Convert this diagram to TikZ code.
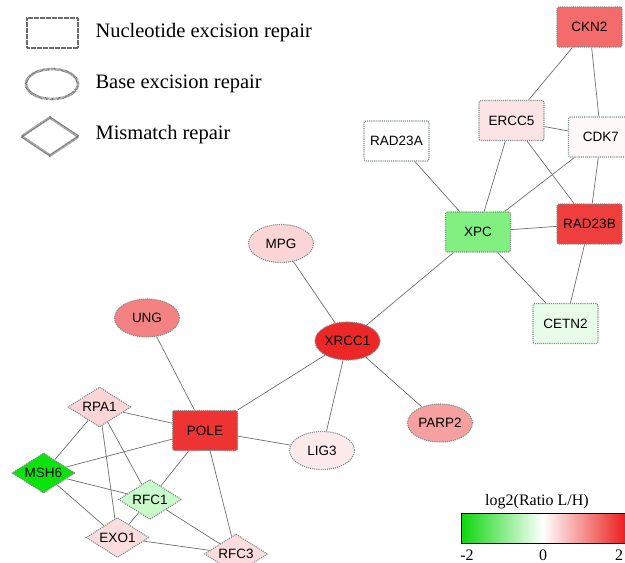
\documentclass[tikz,border=0pt]{standalone}
\usepackage{fontspec}
\setmainfont{Liberation Serif}
\setsansfont{Liberation Sans}
\usepackage{tikz}
\usetikzlibrary{shapes.geometric}
\usepackage{xcolor}
\definecolor{upred}{RGB}{236,28,28}
\definecolor{downgreen}{RGB}{12,226,12}
\definecolor{edgegray}{HTML}{6E6E6E}
\definecolor{rimgray}{HTML}{7F8A8C}
\newcommand{\genefont}{\sffamily\fontsize{13.5}{15}\selectfont}
\newcommand{\keyfont}{\rmfamily\fontsize{20.5}{23}\selectfont}
\newcommand{\barfont}{\rmfamily\fontsize{16}{18}\selectfont}
\tikzset{x=1pt, y=-1pt}
\tikzstyle{gene} = [draw=rimgray, densely dotted, line width=1.1pt, inner sep=0pt, font=\genefont]
\tikzstyle{nerbox} = [gene, rectangle, rounded corners=2pt, minimum width=65pt, minimum height=40pt]
\tikzstyle{berbox} = [gene, ellipse, minimum width=65pt, minimum height=38pt]
\tikzstyle{mmrbox} = [gene, diamond, aspect=1.6, minimum width=63pt, minimum height=40pt]
\tikzstyle{keyshape} = [draw=gray!85!black, line width=2.6pt, dash pattern=on 0.6pt off 0.6pt, inner sep=0pt]
\tikzstyle{ln} = [draw=edgegray, line width=0.7pt]

\begin{document}
\begin{tikzpicture}
  \useasboundingbox (0,0) rectangle (625,563);
  \clip (0,0) rectangle (625,563);
  % legend
  \node[keyshape, rectangle, minimum width=51pt, minimum height=30pt] (keyner) at (52.5,33) {};
  \node[keyshape, ellipse, minimum width=52pt, minimum height=30pt] (keyber) at (52,84) {};
  \node[keyshape, diamond, minimum width=58pt, minimum height=39pt] (keymmr) at (50,136.5) {};
  \node[anchor=west, font=\keyfont] (txtner) at (92,33) {Nucleotide excision repair};
  \node[anchor=west, font=\keyfont] (txtber) at (92,84) {Base excision repair};
  \node[anchor=west, font=\keyfont] (txtmmr) at (92,135) {Mismatch repair};
  % nucleotide excision repair
  \node[nerbox, fill=upred!65] (ckn2) at (589.5,27) {CKN2};
  \node[nerbox, fill=upred!12] (ercc5) at (511.5,120.5) {ERCC5};
  \node[nerbox, fill=upred!3] (cdk7) at (601,137) {CDK7};
  \node[nerbox, fill=white] (rad23a) at (396.5,141) {RAD23A};
  \node[nerbox, fill=downgreen!52] (xpc) at (478,232) {XPC};
  \node[nerbox, fill=upred!85] (rad23b) at (589.5,224) {RAD23B};
  \node[nerbox, fill=downgreen!9] (cetn2) at (565.5,323.5) {CETN2};
  \node[nerbox, fill=upred!90] (pole) at (205,430.5) {POLE};
  % base excision repair
  \node[berbox, fill=upred!95] (xrcc1) at (347.5,341) {XRCC1};
  \node[berbox, fill=upred!18] (mpg) at (281,243.5) {MPG};
  \node[berbox, fill=upred!55] (ung) at (147,318) {UNG};
  \node[berbox, fill=upred!42] (parp2) at (440,423) {PARP2};
  \node[berbox, fill=upred!9] (lig3) at (322,450.5) {LIG3};
  % mismatch repair
  \node[mmrbox, fill=upred!18] (rpa1) at (99.5,407) {RPA1};
  \node[mmrbox, fill=downgreen] (msh6) at (43.5,473) {MSH6};
  \node[mmrbox, fill=downgreen!22] (rfc1) at (150,499.5) {RFC1};
  \node[mmrbox, fill=upred!15] (exo1) at (117.5,537.5) {EXO1};
  \node[mmrbox, fill=upred!15] (rfc3) at (236,554) {RFC3};
  \path[ln]
    (ckn2) edge (ercc5)
    (ckn2) edge (cdk7)
    (ercc5) edge (cdk7)
    (ercc5) edge (xpc)
    (ercc5) edge (rad23b)
    (cdk7) edge (xpc)
    (cdk7) edge (rad23b)
    (rad23a) edge (xpc)
    (xpc) edge (rad23b)
    (xpc) edge (cetn2)
    (rad23b) edge (cetn2)
    (xpc) edge (xrcc1)
    (xrcc1) edge (mpg)
    (xrcc1) edge (pole)
    (xrcc1) edge (lig3)
    (xrcc1) edge (parp2)
    (ung) edge (pole)
    (pole) edge (lig3)
    (pole) edge (rpa1)
    (pole) edge (msh6)
    (pole) edge (rfc1)
    (pole) edge (rfc3)
    (rpa1) edge (msh6)
    (rpa1) edge (exo1)
    (rpa1) edge (rfc1)
    (msh6) edge (rfc1)
    (msh6) edge (exo1)
    (rfc1) edge (exo1)
    (rfc1) edge (rfc3)
    (exo1) edge (rfc3);
  % colour scale
  \shade[left color=downgreen!95!black, right color=white] (461,513) rectangle (543,543);
  \shade[left color=white, right color=upred] (543,513) rectangle (626,543);
  \draw[line width=1pt] (461,513) rectangle (630,543);
  \node[font=\barfont] (bartitle) at (537,502) {log2(Ratio L/H)};
  \node[font=\barfont] (barlow) at (467,555) {-2};
  \node[font=\barfont] (barmid) at (543,555) {0};
  \node[font=\barfont] (barhigh) at (619,555) {2};
\end{tikzpicture}
\end{document}
